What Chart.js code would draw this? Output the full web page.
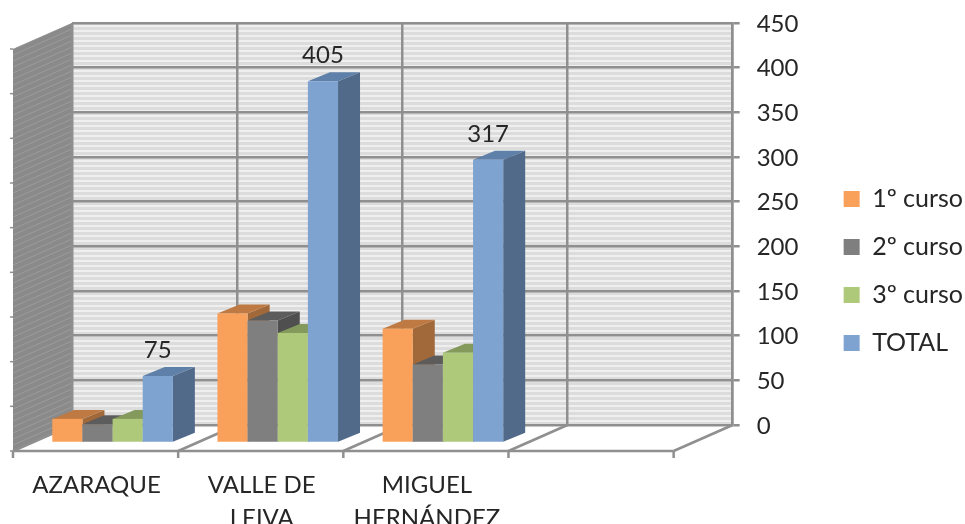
<!DOCTYPE html>
<html>
<head>
<meta charset="utf-8">
<title>Alumnos por centro</title>
<script src="https://cdn.jsdelivr.net/npm/chart.js@4"></script>
<style>
    html, body { margin: 0; padding: 0; background: #fff; }
    canvas { display: block; }
</style>
</head>
<body>
<canvas id="grafico" width="965" height="524"></canvas>
<script>
// Datos
const centros = ['AZARAQUE', ['VALLE DE', 'LEIVA'], ['MIGUEL', 'HERNÁNDEZ'], ''];
const curso1 = [27, 145, 128, null];
const curso2 = [21, 137, 88, null];
const curso3 = [27, 123, 101, null];
const total = [75, 405, 317, null];

// Colores de cada serie: frente, tapa y lateral
const colores = [
    { frente: '#F9A05A', tapa: '#BE7A42', lado: '#A1683A' },
    { frente: '#7F7F7F', tapa: '#5C5C5C', lado: '#4F4F4F' },
    { frente: '#AFC97B', tapa: '#84995C', lado: '#6F8250' },
    { frente: '#7FA3D1', tapa: '#5F80A8', lado: '#526A8A' }
];

const FUENTE = 'Lato, "Open Sans", sans-serif';
const COLOR_REJILLA = '#8F8F8F';

// Desplazamientos de la perspectiva
const SUELO = { dx: -59, dy: 26 };
const BARRA = { dx: -42, dy: 18 };
const FONDO = { dx: 22, dy: -9 };

function poligono(ctx, puntos, color) {
    ctx.beginPath();
    puntos.forEach((p, i) => i ? ctx.lineTo(p[0], p[1]) : ctx.moveTo(p[0], p[1]));
    ctx.closePath();
    ctx.fillStyle = color;
    ctx.fill();
}

function linea(ctx, x1, y1, x2, y2) {
    ctx.beginPath();
    ctx.moveTo(x1, y1);
    ctx.lineTo(x2, y2);
    ctx.stroke();
}

function patronRayas() {
    const c = document.createElement('canvas');
    c.width = 4;
    c.height = 5;
    const g = c.getContext('2d');
    g.fillStyle = '#EFEFEF';
    g.fillRect(0, 0, 4, 5);
    g.fillStyle = '#DCDCDC';
    g.fillRect(0, 2, 4, 3);
    return c;
}

// Paredes y suelo de la caja 3D
const paredes = {
    id: 'paredes',
    // sube un poco la leyenda
    afterLayout(chart) {
        chart.legend.top -= 2.5;
        chart.legend.bottom -= 2.5;
    },
    beforeDraw(chart) {
        const { ctx, chartArea: a, scales } = chart;
        const izq = a.left + SUELO.dx;

        ctx.save();
        ctx.fillStyle = ctx.createPattern(patronRayas(), 'repeat');
        ctx.fillRect(a.left, a.top, a.right - a.left, a.bottom - a.top);

        // pared izquierda
        const muro = [[a.left, a.top], [izq, a.top + SUELO.dy], [izq, a.bottom + SUELO.dy], [a.left, a.bottom]];
        poligono(ctx, muro, '#8A8A8A');
        ctx.save();
        ctx.clip();
        ctx.strokeStyle = '#9C9C9C';
        ctx.lineWidth = 1;
        for (let y = a.top; y < a.bottom + 40; y += 6) {
            linea(ctx, a.left, y, izq, y + SUELO.dy);
        }
        ctx.restore();

        // lineas del suelo y marcas
        ctx.strokeStyle = COLOR_REJILLA;
        ctx.lineWidth = 2.5;
        const n = scales.x.ticks.length;
        const paso = (a.right - a.left) / n;
        for (let i = 0; i <= n; i++) {
            const x = a.left + paso * i;
            linea(ctx, x, a.bottom, x + SUELO.dx, a.bottom + SUELO.dy);
            linea(ctx, x + SUELO.dx, a.bottom + SUELO.dy, x + SUELO.dx, a.bottom + SUELO.dy + 7);
        }
        linea(ctx, izq, a.bottom + SUELO.dy, a.right + SUELO.dx, a.bottom + SUELO.dy);

        // marcas de la pared izquierda
        ctx.lineWidth = 1.5;
        scales.y.ticks.forEach(t => {
            const y = scales.y.getPixelForValue(t.value) + SUELO.dy;
            linea(ctx, izq - 3, y, izq, y);
        });
        ctx.restore();
    }
};

// Dibuja las barras de izquierda a derecha con tapa y lateral
const barras3d = {
    id: 'barras3d',
    beforeDatasetsDraw(chart) {
        const { ctx } = chart;
        ctx.save();
        ctx.translate(BARRA.dx, BARRA.dy);
        chart.data.datasets.forEach((ds, d) => {
            const meta = chart.getDatasetMeta(d);
            meta.data.forEach((bar, i) => {
                if (ds.data[i] === null) return;
                const izq = bar.x - bar.width / 2;
                const der = bar.x + bar.width / 2;
                poligono(ctx, [[der, bar.y], [der + FONDO.dx, bar.y + FONDO.dy], [der + FONDO.dx, bar.base + FONDO.dy], [der, bar.base]], colores[d].lado);
                poligono(ctx, [[izq, bar.y], [izq + FONDO.dx, bar.y + FONDO.dy], [der + FONDO.dx, bar.y + FONDO.dy], [der, bar.y]], colores[d].tapa);
                bar.draw(ctx);
            });
        });

        // etiquetas solo para el total
        const ultima = chart.data.datasets.length - 1;
        ctx.fillStyle = '#262626';
        ctx.font = '24px ' + FUENTE;
        ctx.textAlign = 'center';
        ctx.textBaseline = 'middle';
        chart.getDatasetMeta(ultima).data.forEach((bar, i) => {
            const valor = chart.data.datasets[ultima].data[i];
            if (valor !== null) ctx.fillText(valor, bar.x, bar.y - 26);
        });
        ctx.restore();
        return false;
    }
};

const series = [['1º curso', curso1], ['2º curso', curso2], ['3º curso', curso3], ['TOTAL', total]];

new Chart(document.getElementById('grafico').getContext('2d'), {
    type: 'bar',
    data: {
        labels: centros,
        datasets: series.map((s, i) => ({
            label: s[0],
            data: s[1],
            backgroundColor: colores[i].frente,
            borderWidth: 0,
            categoryPercentage: 0.73,
            barPercentage: 1
        }))
    },
    options: {
        responsive: false,
        animation: false,
        layout: { padding: { left: 72, top: 23, right: -8, bottom: 0 } },
        plugins: {
            tooltip: { enabled: false },
            legend: {
                position: 'right',
                labels: {
                    boxWidth: 16,
                    boxHeight: 16,
                    padding: 23,
                    color: '#262626',
                    font: { family: FUENTE, size: 25 }
                }
            }
        },
        scales: {
            x: {
                border: { display: false },
                grid: { color: COLOR_REJILLA, lineWidth: 2.5, drawTicks: false },
                ticks: {
                    autoSkip: false,
                    maxRotation: 0,
                    padding: 44,
                    labelOffset: -58,
                    color: '#262626',
                    font: { family: FUENTE, size: 24, lineHeight: 1.375 }
                },
                afterFit(scale) { scale.height = 99; }
            },
            y: {
                position: 'right',
                min: 0,
                max: 450,
                border: { color: COLOR_REJILLA, width: 2.5 },
                grid: { color: COLOR_REJILLA, lineWidth: 2.5, tickLength: 7 },
                ticks: {
                    stepSize: 50,
                    padding: 17,
                    labelOffset: 1,
                    color: '#262626',
                    font: { family: FUENTE, size: 24 }
                },
                afterFit(scale) {
                    scale.width = 88;
                    scale.paddingTop = 0;
                    scale.paddingBottom = 0;
                }
            }
        }
    },
    plugins: [paredes, barras3d]
});
</script>
</body>
</html>
